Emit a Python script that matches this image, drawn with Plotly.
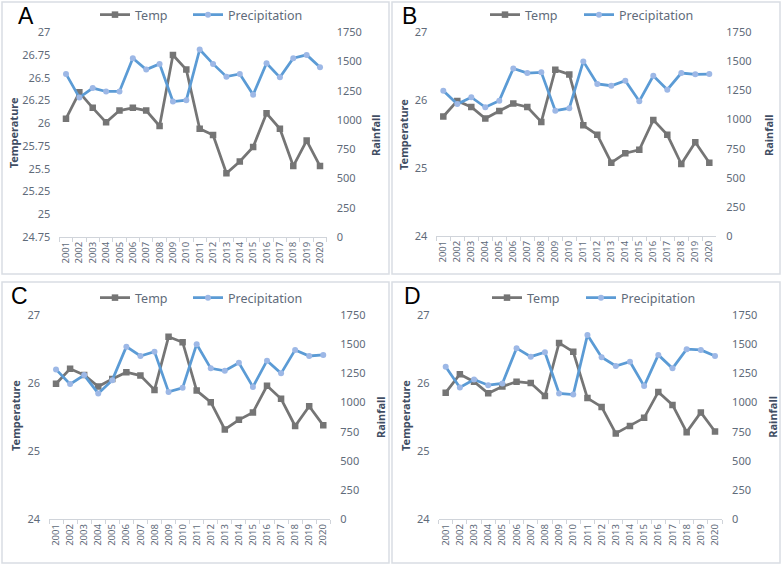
import plotly.graph_objects as go

years = [str(y) for y in range(2001, 2021)]

temp_a = [26.05, 26.34, 26.17, 26.01, 26.14, 26.17, 26.14, 25.97, 26.75, 26.59,
          25.94, 25.87, 25.45, 25.58, 25.74, 26.11, 25.94, 25.53, 25.81, 25.53]
prec_a = [1394, 1192, 1273, 1244, 1244, 1528, 1431, 1480, 1158, 1170,
          1603, 1480, 1371, 1394, 1216, 1485, 1365, 1528, 1557, 1451]

temp_b = [25.76, 25.99, 25.90, 25.73, 25.84, 25.95, 25.90, 25.68, 26.45, 26.38,
          25.63, 25.49, 25.08, 25.22, 25.27, 25.71, 25.49, 25.06, 25.38, 25.08]
prec_b = [1248, 1134, 1192, 1106, 1163, 1440, 1400, 1406, 1077, 1098,
          1500, 1306, 1291, 1334, 1158, 1377, 1257, 1400, 1389, 1391]

temp_c = [25.99, 26.21, 26.12, 25.95, 26.06, 26.16, 26.11, 25.90, 26.68, 26.60,
          25.89, 25.72, 25.32, 25.46, 25.57, 25.96, 25.77, 25.37, 25.66, 25.38]
prec_c = [1284, 1158, 1235, 1078, 1192, 1479, 1399, 1436, 1091, 1126,
          1500, 1293, 1272, 1341, 1134, 1359, 1250, 1451, 1399, 1408]

temp_d = [25.86, 26.13, 26.02, 25.85, 25.95, 26.02, 26.00, 25.81, 26.59, 26.46,
          25.78, 25.65, 25.26, 25.37, 25.49, 25.87, 25.68, 25.28, 25.57, 25.29]
prec_d = [1307, 1129, 1198, 1149, 1164, 1466, 1393, 1431, 1078, 1069,
          1578, 1388, 1313, 1350, 1141, 1408, 1293, 1457, 1451, 1399]

temp_ticks_a = [24.75, 25, 25.25, 25.5, 25.75, 26, 26.25, 26.5, 26.75, 27]
temp_ticks_bcd = [24, 25, 26, 27]
rain_ticks = [0, 250, 500, 750, 1000, 1250, 1500, 1750]
panel_letters = ["A", "B", "C", "D"]

W, H = 783, 566


def px(x):
    return x / W


def py(y):
    return 1 - y / H


def fmt(v):
    s = ("%.2f" % v).rstrip("0").rstrip(".")
    return s


panels = [
    dict(temp=temp_a, prec=prec_a, tt=temp_ticks_a,
         xd=[59.3, 326.7], yd=[237, 32.3], leg_t=(95, 15), leg_p=(188, 15),
         letter=(26, 16), tlab=(13.3, 133), rlab=(375, 135)),
    dict(temp=temp_b, prec=prec_b, tt=temp_ticks_bcd,
         xd=[436.3, 716.3], yd=[236, 32.3], leg_t=(485, 15), leg_p=(579, 15),
         letter=(409, 16), tlab=(403, 135), rlab=(768, 135)),
    dict(temp=temp_c, prec=prec_c, tt=temp_ticks_bcd,
         xd=[49, 330.3], yd=[519.3, 315], leg_t=(95, 298), leg_p=(188, 298),
         letter=(19, 296), tlab=(15, 416), rlab=(380, 417)),
    dict(temp=temp_d, prec=prec_d, tt=temp_ticks_bcd,
         xd=[438.6, 722.1], yd=[519.3, 315], leg_t=(487, 298), leg_p=(581, 298),
         letter=(412, 296), tlab=(405, 416), rlab=(771.7, 417)),
]

gray = "#757575"
blue = "#5b9bd5"
blue_mk = "#9db8e6"
tick_col = "#5f6b7a"
title_col = "#3f4d63"
font_fam = "Noto Sans"

fig = go.Figure()
layout = dict(
    width=W, height=H, margin=dict(l=0, r=0, t=0, b=0, autoexpand=False),
    paper_bgcolor="white", plot_bgcolor="white", showlegend=True,
    font=dict(family=font_fam, color=tick_col, size=11),
    shapes=[], annotations=[],
)

borders = [(2, 2, 389, 274), (392, 2, 780, 274), (2, 282, 389, 563), (392, 282, 780, 563)]
for (x0, y0, x1, y1) in borders:
    layout["shapes"].append(dict(type="rect", xref="paper", yref="paper",
                                 x0=px(x0), x1=px(x1), y0=py(y1), y1=py(y0),
                                 line=dict(color="#d9dde3", width=1.5)))


def legend_key(n):
    return "legend" if n == 1 else f"legend{n}"


for i, p in enumerate(panels, start=1):
    xid = "x" if i == 1 else f"x{i}"
    yl = 2 * i - 1
    yr = 2 * i
    ylid = "y" if yl == 1 else f"y{yl}"
    yrid = f"y{yr}"
    leg_t = legend_key(2 * i - 1)
    leg_p = legend_key(2 * i)

    fig.add_trace(go.Scatter(
        x=years, y=p["temp"], name="Temp", mode="lines+markers",
        xaxis=xid, yaxis=ylid, legend=leg_t, showlegend=True,
        line=dict(color=gray, width=2.75),
        marker=dict(symbol="square", size=6.5, color=gray)))
    fig.add_trace(go.Scatter(
        x=years, y=p["prec"], name="Precipitation", mode="lines+markers",
        xaxis=xid, yaxis=yrid, legend=leg_p, showlegend=True,
        line=dict(color=blue, width=2.75),
        marker=dict(symbol="circle", size=6, color=blue_mk)))

    xkey = "xaxis" if i == 1 else f"xaxis{i}"
    ylkey = "yaxis" if yl == 1 else f"yaxis{yl}"
    yrkey = f"yaxis{yr}"

    layout[xkey] = dict(
        domain=[px(p["xd"][0]), px(p["xd"][1])], anchor=ylid, type="category",
        range=[-0.5, len(years) - 0.5], showline=True, linecolor="#d0d4da",
        linewidth=1, ticks="outside", tickson="boundaries", ticklen=4,
        tickcolor="#d0d4da", tickangle=-90, showgrid=False, zeroline=False,
        automargin=False,
        tickfont=dict(size=9.5, color=tick_col), fixedrange=True)
    tt = p["tt"]
    layout[ylkey] = dict(
        domain=[py(p["yd"][0]), py(p["yd"][1])], anchor=xid, side="left",
        range=[tt[0], tt[-1]], tickvals=tt, ticktext=[fmt(v) for v in tt],
        showgrid=False, zeroline=False, showline=False, ticks="",
        automargin=False, fixedrange=True,
        ticklabelstandoff=8, tickfont=dict(size=11, color=tick_col))
    layout[yrkey] = dict(
        overlaying=ylid, anchor=xid, side="right",
        range=[rain_ticks[0], rain_ticks[-1]], tickvals=rain_ticks,
        ticktext=[str(v) for v in rain_ticks],
        showgrid=False, zeroline=False, showline=False, ticks="",
        automargin=False, fixedrange=True,
        ticklabelstandoff=9, tickfont=dict(size=11, color=tick_col))

    for key, (lx, ly) in ((leg_t, p["leg_t"]), (leg_p, p["leg_p"])):
        layout[key] = dict(orientation="h", x=px(lx), y=py(ly), xanchor="left",
                           yanchor="middle", bgcolor="rgba(0,0,0,0)", visible=True,
                           font=dict(size=12.5, color=tick_col, family=font_fam),
                           itemwidth=30)

    ax_, ay_ = p["letter"]
    layout["annotations"].append(dict(
        text=panel_letters[i - 1], x=px(ax_), y=py(ay_), xref="paper", yref="paper",
        showarrow=False, xanchor="center", yanchor="middle",
        font=dict(size=23, color="black", family="Liberation Sans")))
    tx, ty = p["tlab"]
    layout["annotations"].append(dict(
        text="<b>Temperature</b>", x=px(tx), y=py(ty), xref="paper", yref="paper",
        showarrow=False, textangle=-90, xanchor="center", yanchor="middle",
        font=dict(size=11, color=title_col)))
    rx, ry = p["rlab"]
    layout["annotations"].append(dict(
        text="<b>Rainfall</b>", x=px(rx), y=py(ry), xref="paper", yref="paper",
        showarrow=False, textangle=-90, xanchor="center", yanchor="middle",
        font=dict(size=11, color=title_col)))

fig.update_layout(**layout)
fig.write_html("out.html", config={"displayModeBar": False, "staticPlot": True},
               post_script="document.body.style.margin='0px';document.body.style.overflow='hidden';")
